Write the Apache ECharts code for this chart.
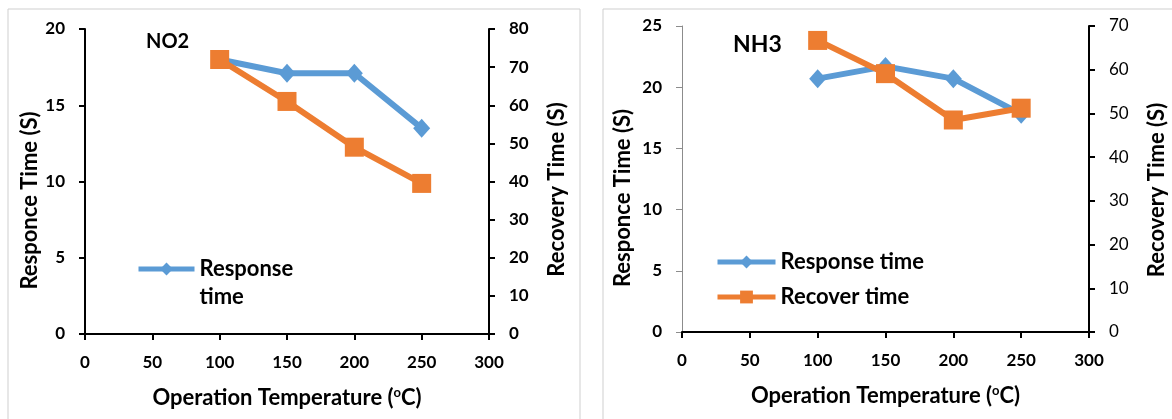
<!DOCTYPE html>
<html>
<head>
<meta charset="utf-8">
<script src="https://cdn.jsdelivr.net/npm/echarts@6/dist/echarts.min.js"></script>
<style>
  html, body { margin: 0; padding: 0; background: #fff; }
  #chart { width: 1172px; height: 419px; }
</style>
</head>
<body>
<div id="chart"></div>
<script>
// operating temperatures (°C)
const temps = [100, 150, 200, 250];

// NO2 panel
const no2Response = [18, 17.1, 17.1, 13.5];
const no2Recovery = [72, 61, 49, 39.5];

// NH3 panel
const nh3Response = [20.7, 21.7, 20.7, 17.8];
const nh3Recovery = [66.7, 59.1, 48.5, 51.2];

const BLUE = '#5B9BD5';
const ORANGE = '#ED7D31';
const FONT = 'Lato';

const pairs = (ys) => temps.map((t, i) => [t, ys[i]]);

const chart = echarts.init(document.getElementById('chart'));

const tickLabel = (bold) => ({
  fontFamily: FONT, fontSize: 17, fontWeight: bold ? 'bold' : 'normal',
  color: '#000', margin: 20
});
// pad = extra room on the text's end side, nudges rotated titles downward
const axisTitle = (pad) => ({
  fontFamily: FONT, fontSize: 22, fontWeight: 'bold', color: '#000',
  padding: [0, pad || 0, 0, 0],
  rich: { sup: { fontFamily: FONT, fontSize: 13, fontWeight: 'bold', color: '#000', padding: [0, 0, 10, 0] } }
});
const blackLine = { show: true, lineStyle: { color: '#000', width: 2 } };
const grayLine = { show: true, lineStyle: { color: '#8c8c8c', width: 1 } };

function xAxis(gridIndex) {
  return {
    type: 'value', gridIndex, min: 0, max: 300, interval: 50,
    name: 'Operation Temperature ({sup|o}C)', nameLocation: 'middle', nameGap: 52,
    nameTextStyle: axisTitle(0),
    axisLine: blackLine,
    axisTick: { show: true, length: 6, lineStyle: { color: '#000', width: 2 } },
    axisLabel: tickLabel(true),
    splitLine: { show: false }
  };
}

function yAxis(gridIndex, opts) {
  return Object.assign({
    type: 'value', gridIndex, min: 0,
    nameLocation: 'middle', nameRotate: 90,
    axisTick: { show: true, length: 6, lineStyle: { color: '#000', width: 2 } },
    splitLine: { show: false }
  }, opts);
}

const legendText = { fontFamily: FONT, fontSize: 22, fontWeight: 'bold', color: '#000', lineHeight: 28 };

const option = {
  animation: false,
  backgroundColor: '#fff',
  graphic: [
    { type: 'rect', shape: { x: 8, y: 9, width: 572, height: 430 }, style: { fill: 'none', stroke: '#cfcfcf', lineWidth: 1 }, z: -1 },
    { type: 'rect', shape: { x: 603, y: 9, width: 600, height: 430 }, style: { fill: 'none', stroke: '#cfcfcf', lineWidth: 1 }, z: -1 }
  ],
  title: [
    { text: 'NO2', left: 141, top: 27, textStyle: { fontFamily: FONT, fontSize: 20, fontWeight: 'bold', color: '#000' } },
    { text: 'NH3', left: 728, top: 28, textStyle: { fontFamily: FONT, fontSize: 23, fontWeight: 'bold', color: '#000' } }
  ],
  grid: [
    { left: 85, top: 29, width: 404, height: 305 },
    { left: 682, top: 26, width: 407, height: 306 }
  ],
  legend: [
    {
      data: ['Response time'], left: 131, top: 222, orient: 'vertical',
      itemWidth: 56, itemHeight: 16,
      formatter: () => '\nResponse\ntime',
      lineStyle: { width: 5 },
      textStyle: legendText
    },
    {
      data: ['Response time ', 'Recover time'], left: 710, top: 243, orient: 'vertical',
      itemWidth: 58, itemHeight: 16, itemGap: 7,
      formatter: (n) => n.trim(),
      lineStyle: { width: 5 },
      textStyle: legendText
    }
  ],
  xAxis: [xAxis(0), xAxis(1)],
  yAxis: [
    yAxis(0, { max: 20, interval: 5, position: 'left', name: 'Responce Time (S)', nameGap: 44,
      nameTextStyle: axisTitle(38), axisLine: blackLine, axisLabel: tickLabel(true) }),
    yAxis(0, { max: 80, interval: 10, position: 'right', name: 'Recovery Time (S)', nameGap: 57,
      nameTextStyle: axisTitle(16), axisLine: blackLine, axisLabel: tickLabel(true) }),
    yAxis(1, { max: 25, interval: 5, position: 'left', name: 'Responce Time (S)', nameGap: 48,
      nameTextStyle: axisTitle(38), axisLine: grayLine,
      axisTick: { show: true, length: 6, lineStyle: { color: '#8c8c8c', width: 1 } },
      axisLabel: tickLabel(true) }),
    yAxis(1, { max: 70, interval: 10, position: 'right', name: 'Recovery Time (S)', nameGap: 57,
      nameTextStyle: axisTitle(22), axisLine: blackLine, axisLabel: tickLabel(false) })
  ],
  series: [
    { name: 'Response time', type: 'line', xAxisIndex: 0, yAxisIndex: 0, data: pairs(no2Response),
      symbol: 'diamond', symbolSize: [17, 19], lineStyle: { color: BLUE, width: 6 }, itemStyle: { color: BLUE } },
    { name: 'Recover time NO2', type: 'line', xAxisIndex: 0, yAxisIndex: 1, data: pairs(no2Recovery),
      symbol: 'rect', symbolSize: 19, lineStyle: { color: ORANGE, width: 6 }, itemStyle: { color: ORANGE } },
    { name: 'Response time ', type: 'line', xAxisIndex: 1, yAxisIndex: 2, data: pairs(nh3Response),
      symbol: 'diamond', symbolSize: [17, 19], lineStyle: { color: BLUE, width: 6 }, itemStyle: { color: BLUE } },
    { name: 'Recover time', type: 'line', xAxisIndex: 1, yAxisIndex: 3, data: pairs(nh3Recovery),
      symbol: 'rect', symbolSize: 19, lineStyle: { color: ORANGE, width: 6 }, itemStyle: { color: ORANGE } }
  ]
};

chart.setOption(option);
</script>
</body>
</html>
